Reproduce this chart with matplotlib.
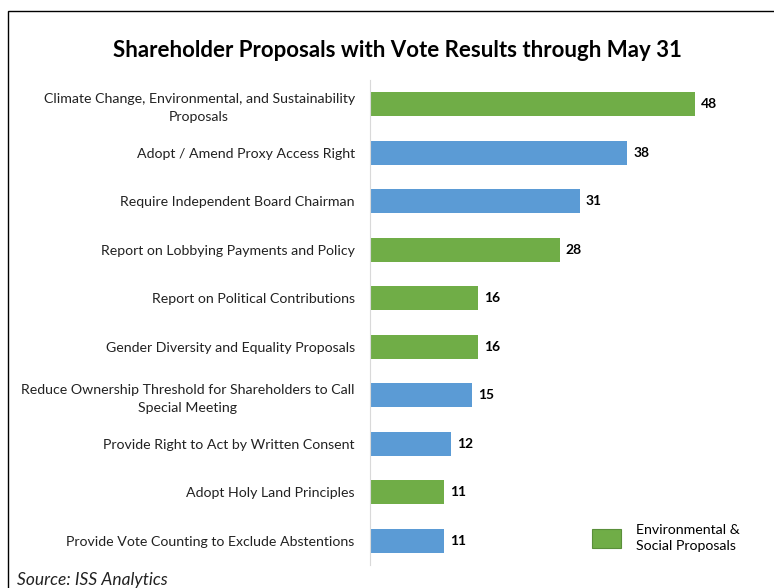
#!/usr/bin/python
import matplotlib
matplotlib.use('Agg')
import matplotlib.pyplot as plt
from matplotlib.patches import Patch, Rectangle
import numpy as np


# proposal categories, top to bottom
categories = [
    'Climate Change, Environmental, and Sustainability\nProposals',
    'Adopt / Amend Proxy Access Right',
    'Require Independent Board Chairman',
    'Report on Lobbying Payments and Policy',
    'Report on Political Contributions',
    'Gender Diversity and Equality Proposals',
    'Reduce Ownership Threshold for Shareholders to Call\nSpecial Meeting',
    'Provide Right to Act by Written Consent',
    'Adopt Holy Land Principles',
    'Provide Vote Counting to Exclude Abstentions',
]
counts = [48, 38, 31, 28, 16, 16, 15, 12, 11, 11]
# True = environmental & social proposal
env_social = [True, False, False, True, True, True, False, False, True, False]

GREEN = '#70AD47'
BLUE = '#5B9BD5'


def main():
    plt.rcParams['font.family'] = ['Lato', 'DejaVu Sans']

    fig = plt.figure(figsize=(7.74, 5.88), dpi=100)
    ax = fig.add_axes([0.478, 0.039, 0.49, 0.825])

    y = np.arange(len(categories))
    colors = [GREEN if e else BLUE for e in env_social]
    ax.barh(y, counts, height=0.5, color=colors)
    ax.set_ylim(len(categories) - 0.5, -0.5)
    ax.set_xlim(0, 56)

    # value labels at bar ends
    for yi, c in zip(y, counts):
        ax.text(c + 0.9, yi, str(c), va='center', ha='left',
                fontsize=10, fontweight='bold', color='black')

    ax.set_yticks(y)
    ax.set_yticklabels(categories, fontsize=10.2, color='#222222')
    for lbl in ax.get_yticklabels():
        lbl.set_multialignment('center')
        lbl.set_linespacing(1.55)
    ax.tick_params(axis='y', length=0, pad=11)
    ax.set_xticks([])
    for side in ['top', 'right', 'bottom']:
        ax.spines[side].set_visible(False)
    ax.spines['left'].set_color('#d9d9d9')
    ax.spines['left'].set_linewidth(0.8)

    fig.text(0.514, 0.914, 'Shareholder Proposals with Vote Results through May 31',
             ha='center', va='center', fontsize=16, fontweight='bold', color='black')

    leg = ax.legend(handles=[Patch(facecolor=GREEN, edgecolor='#5a8f3a', linewidth=0.8,
                                   label='Environmental &\nSocial Proposals')],
                    loc='lower right', bbox_to_anchor=(1.01, 0.0), frameon=False,
                    fontsize=10.2, handlelength=2.0, handleheight=1.6, handletextpad=1.1)
    for t in leg.get_texts():
        t.set_linespacing(1.45)

    fig.text(0.022, 0.014, 'Source: ISS Analytics', ha='left', va='center',
             fontsize=12.5, style='italic', color='#222222')

    # frame around the chart area (runs off the right and bottom edges)
    fig.patches.append(Rectangle((0.0105, -0.1), 1.1, 1.081, transform=fig.transFigure,
                                 fill=False, edgecolor='black', linewidth=1.0))

    fig.savefig('out.png', dpi=100, facecolor='white')


if __name__ == "__main__":
    main()
